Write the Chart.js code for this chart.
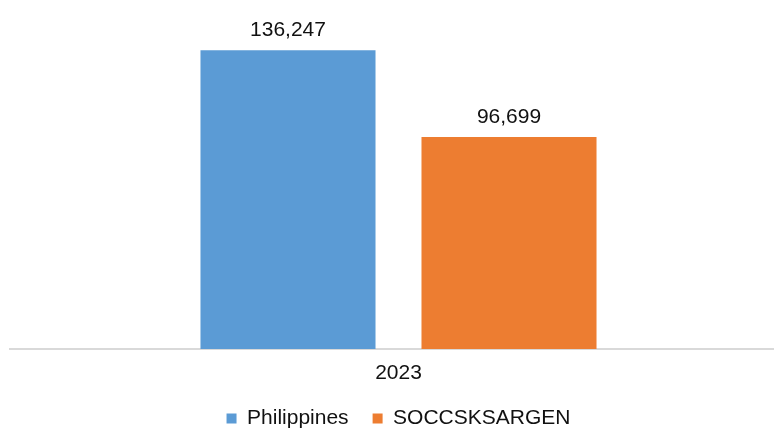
<!DOCTYPE html>
<html>
<head>
<meta charset="utf-8">
<script src="https://cdn.jsdelivr.net/npm/chart.js@4/dist/chart.umd.min.js"></script>
<style>
  html, body { margin: 0; padding: 0; background: #ffffff; }
  #wrap { width: 775px; height: 430px; position: relative; }
</style>
</head>
<body>
<div id="wrap"><canvas id="c" width="775" height="430"></canvas></div>
<script>
const categories = ['2023'];
const seriesNames = ['Philippines', 'SOCCSKSARGEN'];
const philippinesValues = [136247];
const soccsksargenValues = [96699];
const seriesColors = ['#5B9BD5', '#ED7D31'];

const FONT = '"Liberation Sans", Arial, sans-serif';

const baselinePlugin = {
  id: 'baseline',
  beforeDatasetsDraw(chart) {
    const ctx = chart.ctx;
    const y = chart.scales.y.getPixelForValue(0);
    ctx.save();
    ctx.strokeStyle = '#d9d9d9';
    ctx.lineWidth = 2;
    ctx.beginPath();
    ctx.moveTo(9, y);
    ctx.lineTo(774, y);
    ctx.stroke();
    ctx.restore();
  }
};

const valueLabelPlugin = {
  id: 'valueLabels',
  afterDatasetsDraw(chart) {
    const ctx = chart.ctx;
    ctx.save();
    ctx.font = '21px ' + FONT;
    ctx.fillStyle = '#111111';
    ctx.textAlign = 'center';
    ctx.textBaseline = 'alphabetic';
    chart.data.datasets.forEach((ds, di) => {
      const meta = chart.getDatasetMeta(di);
      meta.data.forEach((bar, i) => {
        const v = ds.data[i];
        ctx.fillText(v.toLocaleString('en-US'), bar.x, bar.y - 14);
      });
    });
    ctx.restore();
  }
};

new Chart(document.getElementById('c'), {
  type: 'bar',
  data: {
    labels: categories,
    datasets: [
      { label: seriesNames[0], data: philippinesValues, backgroundColor: seriesColors[0], borderWidth: 0,
        categoryPercentage: 0.587, barPercentage: 0.792 },
      { label: seriesNames[1], data: soccsksargenValues, backgroundColor: seriesColors[1], borderWidth: 0,
        categoryPercentage: 0.587, barPercentage: 0.792 }
    ]
  },
  options: {
    responsive: false,
    animation: false,
    devicePixelRatio: 1,
    layout: { padding: { top: 42, left: 22, right: 0, bottom: 0 } },
    plugins: {
      legend: {
        position: 'bottom',
        maxHeight: 46,
        labels: {
          boxWidth: 10,
          boxHeight: 10,
          padding: 24,
          color: '#111111',
          font: { family: FONT, size: 21 }
        }
      },
      tooltip: { enabled: false }
    },
    scales: {
      x: {
        grid: { display: false, drawTicks: false },
        border: { display: false },
        ticks: { color: '#111111', padding: 12, font: { family: FONT, size: 21 } },
        afterFit(axis) { axis.height = 35; }
      },
      y: {
        display: false,
        min: 0,
        max: 140000
      }
    }
  },
  plugins: [baselinePlugin, valueLabelPlugin]
});
</script>
</body>
</html>
